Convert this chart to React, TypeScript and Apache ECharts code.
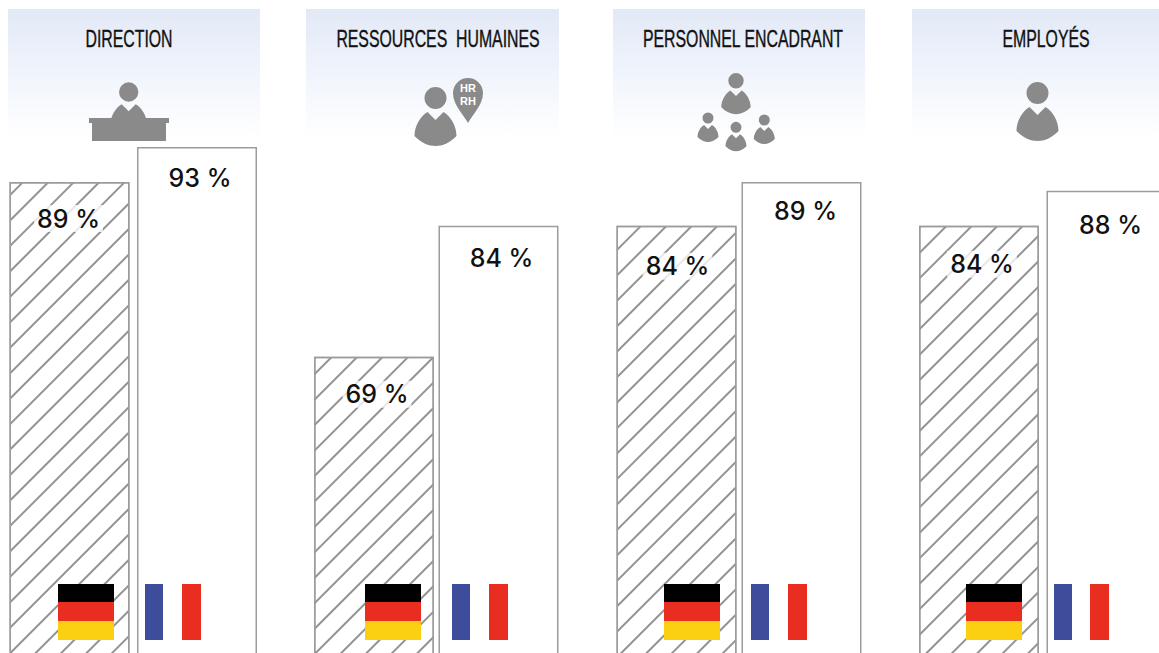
import React, { useEffect, useRef } from "react";
import * as echarts from "echarts";

const WIDTH = 1159;
const HEIGHT = 653;

const categories = ["DIRECTION", "RESSOURCES  HUMAINES", "PERSONNEL ENCADRANT", "EMPLOYÉS"];
const countries = ["Allemagne", "France"];
const germanyValues = [89, 69, 84, 84];
const franceValues = [93, 84, 89, 88];

// Horizontal layout of each group: chart grid, header band, title and flags.
const gridLeft = [5.75, 311.75, 614, 915.25];
const gridWidth = [255, 249, 250, 255];
const bandLeft = [8, 306, 613, 912];
const bandRight = [260, 559, 865, 1159];
const titleCentre = [129, 438, 743, 1046];
const germanFlagLeft = [58, 365, 664, 966];
const frenchBlueLeft = [145, 452, 751, 1054];
const frenchRedLeft = [182, 489, 788, 1090];

// Fine placement of the value labels, [dx, dy] from the top of each bar.
const germanyLabelOffset = [[-1, 23], [3, 24], [1, 27], [3, 25]];
const franceLabelOffset = [[3, 18], [3, 20], [4, 16], [4, 22]];

const GREY = "#8a8a8a";
const BORDER = "#9c9c9c";
const PERSON =
  "M-11,0 A11,11 0 1,1 11,0 A11,11 0 1,1 -11,0 Z " +
  "M-8,14 L0,22 L8,14 C15,18 21,28 21,38 C14,45 7,48 0,48 C-7,48 -14,45 -21,38 C-21,28 -15,18 -8,14 Z";
const PIN = "M0,30 C-4,22 -15,12 -15,0 A15,15 0 1,1 15,0 C15,12 4,22 0,30 Z";

echarts.graphic.registerShape("person", echarts.graphic.extendPath(PERSON, {}) as any);
echarts.graphic.registerShape("hrpin", echarts.graphic.extendPath(PIN, {}) as any);

function person(x: number, y: number, s: number) {
  return { type: "person", x, y, scaleX: s, scaleY: s, z: 5, style: { fill: GREY } };
}

function rect(x: number, y: number, width: number, height: number, fill: string) {
  return { type: "rect", z: 10, shape: { x, y, width, height }, style: { fill } };
}

function buildGraphics() {
  const items: any[] = [];
  categories.forEach((name, i) => {
    items.push({
      type: "rect",
      z: 1,
      shape: { x: bandLeft[i], y: 9, width: bandRight[i] - bandLeft[i], height: 129 },
      style: {
        fill: new echarts.graphic.LinearGradient(0, 0, 0, 1, [
          { offset: 0, color: "#e2e9f6" },
          { offset: 0.5, color: "#f0f4fc" },
          { offset: 1, color: "#ffffff" },
        ]),
      },
    });
    items.push({
      type: "text",
      z: 5,
      x: titleCentre[i],
      y: 39,
      scaleX: 0.66,
      style: {
        text: name,
        fill: "#111111",
        stroke: "#111111",
        lineWidth: 0.4,
        font: '24px "Liberation Sans", sans-serif',
        textAlign: "center",
        textVerticalAlign: "middle",
      },
    });
    const de = germanFlagLeft[i];
    items.push(rect(de, 584, 56, 18, "#000000"));
    items.push(rect(de, 602, 56, 19, "#e92d20"));
    items.push(rect(de, 621, 56, 19, "#fbd013"));
    items.push(rect(frenchBlueLeft[i], 584, 18, 56, "#3e4d9b"));
    items.push(rect(frenchRedLeft[i], 584, 19, 56, "#e92d20"));
  });

  // Direction: a figure seated behind a desk.
  items.push(person(128.7, 92, 0.88));
  items.push({ type: "rect", z: 6, shape: { x: 89, y: 118, width: 80, height: 5 }, style: { fill: GREY } });
  items.push({ type: "rect", z: 6, shape: { x: 92, y: 123, width: 74, height: 18 }, style: { fill: GREY } });

  // Ressources humaines: a figure and the HR/RH pin.
  items.push(person(435.5, 98, 1));
  items.push({ type: "hrpin", x: 468, y: 93, z: 5, style: { fill: GREY } });
  items.push({
    type: "text", z: 6, x: 468, y: 94,
    style: {
      text: "HR\nRH",
      fill: "#ffffff",
      font: 'bold 11px "Liberation Sans", sans-serif',
      textAlign: "center",
      textVerticalAlign: "middle",
      lineHeight: 13,
    },
  });

  // Personnel encadrant: one large figure above three small ones.
  items.push(person(736, 80.7, 0.7));
  items.push(person(708, 118, 0.5));
  items.push(person(736, 127.3, 0.5));
  items.push(person(764.3, 120, 0.5));

  // Employés: a single figure.
  items.push(person(1037.5, 93, 1));
  return items;
}

function barLabel(offset: number[], halo: boolean) {
  return {
    show: true,
    position: "insideTop",
    distance: 0,
    offset,
    formatter: "{c} %",
    color: "#111111",
    fontFamily: "Inter, sans-serif",
    fontWeight: 500,
    fontSize: 25,
    ...(halo ? { backgroundColor: "rgba(255,255,255,0.78)", padding: [1, 3] } : {}),
  };
}

function buildOption() {
  return {
    animation: false,
    backgroundColor: "#ffffff",
    grid: categories.map((_, i) => ({
      left: gridLeft[i],
      width: gridWidth[i],
      top: 86,
      height: 873,
      outerBoundsMode: "none",
    })),
    xAxis: categories.map((_, i) => ({ type: "category", gridIndex: i, data: countries, show: false })),
    yAxis: categories.map((_, i) => ({ type: "value", gridIndex: i, min: 0, max: 100, show: false })),
    series: categories.map((_, i) => ({
      type: "bar",
      xAxisIndex: i,
      yAxisIndex: i,
      barWidth: 120,
      z: 3,
      data: [
        {
          value: germanyValues[i],
          label: barLabel(germanyLabelOffset[i], true),
          itemStyle: {
            color: "#ffffff",
            borderColor: BORDER,
            borderWidth: 1.5,
            decal: {
              symbol: "rect",
              color: "#939393",
              backgroundColor: "#ffffff",
              dashArrayX: [1, 0],
              dashArrayY: [1.4, 15.9],
              symbolSize: 1,
              rotation: -Math.PI / 4,
            },
          },
        },
        {
          value: franceValues[i],
          label: barLabel(franceLabelOffset[i], false),
          itemStyle: { color: "#ffffff", borderColor: BORDER, borderWidth: 1.5 },
        },
      ],
    })),
    graphic: { elements: buildGraphics() },
  };
}

export default function App() {
  const ref = useRef<HTMLDivElement>(null);
  useEffect(() => {
    const chart = echarts.init(ref.current!, undefined, { renderer: "svg", width: WIDTH, height: HEIGHT });
    chart.setOption(buildOption() as any);
    return () => chart.dispose();
  }, []);
  return <div ref={ref} style={{ position: "absolute", left: 0, top: 0, width: WIDTH, height: HEIGHT, overflow: "hidden" }} />;
}
